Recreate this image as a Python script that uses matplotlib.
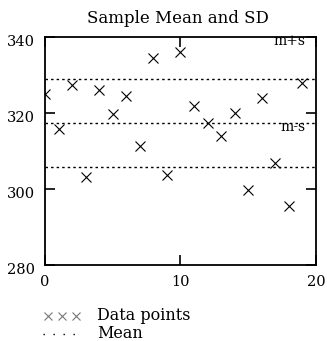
import matplotlib
matplotlib.use("Agg")
import matplotlib.pyplot as plt
import matplotlib.transforms as mtransforms
from matplotlib.lines import Line2D

x_vals = list(range(20))
y_vals = [325.0, 315.8, 327.4, 303.2, 326.0, 319.7, 324.5, 311.3, 334.6, 303.7,
          336.1, 321.8, 317.4, 314.0, 320.0, 299.7, 324.0, 306.8, 295.6, 328.0]
mean_val = 317.4
sd_val = 11.5
y_ticks = [280, 300, 320, 340]
x_ticks = [0, 10, 20]

plt.rcParams['font.family'] = ['DejaVu Serif']

W, H = 327, 341
fig = plt.figure(figsize=(W/100, H/100), dpi=100)
ax = fig.add_axes([45/W, 1-265/H, (316-45)/W, (265-37)/H])

ax.plot(x_vals, y_vals, linestyle='none', marker='x', markersize=7,
        markeredgewidth=0.8, color='black')
for v in [mean_val - sd_val, mean_val, mean_val + sd_val]:
    ax.axhline(v, color='black', linewidth=1.0, linestyle=(0, (1.8, 2.2)))

ax.set_xlim(0, 20)
ax.set_ylim(280, 340)
ax.set_xticks(x_ticks)
ax.set_yticks(y_ticks)
ax.tick_params(axis='both', direction='in', length=7.5, width=1.2, labelsize=10.5,
               top=True, right=True)
ax.tick_params(axis='x', pad=7)
ax.tick_params(axis='y', pad=7)
off = mtransforms.ScaledTranslation(0, -3/100, fig.dpi_scale_trans)
for lab in ax.get_yticklabels():
    lab.set_transform(lab.get_transform() + off)
for s in ax.spines.values():
    s.set_linewidth(1.3)

fig.text(178/W, 1-23/H, 'Sample Mean and SD', ha='center', va='baseline', fontsize=12)

ax.text(19.2, 339.0, 'm+s', ha='right', va='center', fontsize=10)
ax.text(19.2, 316.3, 'm-s', ha='right', va='center', fontsize=10)

# legend-like text below the plot
for px in [48, 62, 76]:
    fig.add_artist(Line2D([px/W], [1-316/H], linestyle='none', marker='x',
                          markersize=5.5, markeredgewidth=0.8, color='#777777',
                          transform=fig.transFigure))
fig.text(97/W, 1-316/H, 'Data points', ha='left', va='center', fontsize=11.5)
fig.add_artist(Line2D([43/W, 75/W], [1-334/H, 1-334/H], color='black',
                      linewidth=1.0, linestyle=(0, (1, 6.2)), transform=fig.transFigure))
fig.text(97/W, 1-334/H, 'Mean', ha='left', va='center', fontsize=11.5)

fig.savefig('out.png', dpi=100)
